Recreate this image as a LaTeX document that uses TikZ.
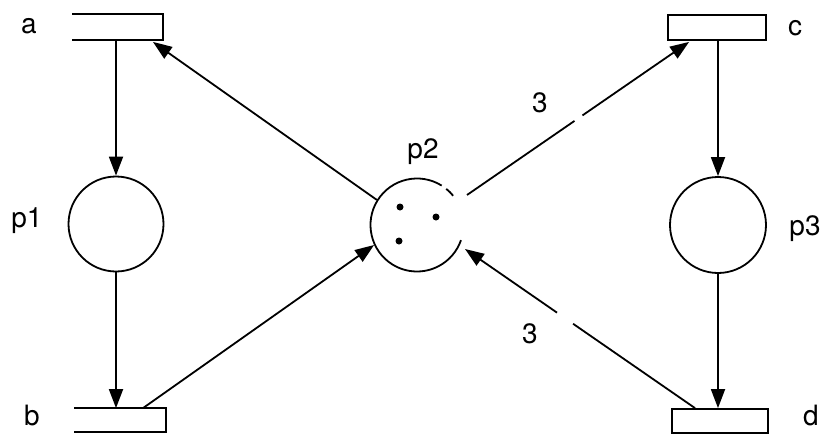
\documentclass[tikz,border=0pt]{standalone}
\usepackage{fontspec}
\setmainfont{TeX Gyre Heros}
\usetikzlibrary{arrows.meta,calc}
\begin{document}
\begin{tikzpicture}[x=1pt,y=-1pt,
  line width=1.8pt,
  arr/.style={-{Triangle[length=19pt,width=14pt]}},
  place/.style={circle, draw, inner sep=0pt},
  trans/.style={rectangle, inner sep=0pt},
  lbl/.style={font=\fontsize{28}{28}\selectfont, anchor=base, inner sep=0pt},
  token/.style={circle, fill, inner sep=0pt, minimum size=7pt}]
\useasboundingbox (0,0) rectangle (827,439);

% transitions
\node[trans, minimum width=89pt, minimum height=24pt] (a) at (117.5,27) {};
\draw (a.north west) -- (a.north east) -- (a.south east) -- (a.south west);
\node[trans, minimum width=90pt, minimum height=22pt] (b) at (120,420) {};
\draw (b.north west) -- (b.north east) -- (b.south east) -- (b.south west);
\node[trans, draw, minimum width=98pt, minimum height=25pt] (c) at (717,27.5) {};
\node[trans, draw, minimum width=96pt, minimum height=24pt] (d) at (720,421) {};

% places
\node[place, minimum size=95pt] (p1) at (116,224) {};
\node[place, minimum size=96pt] (p3) at (718,225) {};
\node[circle, inner sep=0pt, minimum size=93pt] (p2) at (417,225) {};
\draw (p2.center) ++(58:46.5pt) arc[start angle=58, end angle=341, radius=46.5pt];
\draw (p2.center) ++(39:46.5pt) arc[start angle=39, end angle=51, radius=46.5pt];

% tokens
\node[token] (t1) at (400,207) {};
\node[token] (t2) at (436,217) {};
\node[token] (t3) at (399,241) {};

% vertical arcs
\draw[arr] (p1 |- a.south) -- (p1.north);
\draw[arr] (p1.south) -- (p1 |- b.north);
\draw[arr] (p3 |- c.south) -- (p3.north);
\draw[arr] (p3.south) -- (p3 |- d.north);

% diagonal arcs
\draw[arr] (p2.148) -- ([xshift=-10pt,yshift=-2pt]a.south east);
\draw[arr] ([xshift=23pt]b.north) -- (p2.205);

\coordinate (cs) at (467,195);
\coordinate (ct) at ([xshift=22pt,yshift=-1pt]c.south west);
\draw (cs) -- ($(cs)!0.484!(ct)$);
\draw[arr] ($(cs)!0.52!(ct)$) -- (ct);

\coordinate (ds) at ([xshift=-25pt]d.north);
\coordinate (dt) at (465,249);
\draw (ds) -- ($(ds)!0.53!(dt)$);
\draw[arr] ($(ds)!0.60!(dt)$) -- (dt);

% labels
\node[lbl] (la) at (29,33) {a};
\node[lbl] (lb) at (32,425) {b};
\node[lbl] (lc) at (795,35) {c};
\node[lbl] (ld) at (811,425) {d};
\node[lbl] (lp1) at (27,227) {p1};
\node[lbl] (lp2) at (423,158) {p2};
\node[lbl] (lp3) at (805,235) {p3};
\node[lbl] (l3a) at (540,112) {3};
\node[lbl] (l3b) at (530,343) {3};
\end{tikzpicture}
\end{document}
